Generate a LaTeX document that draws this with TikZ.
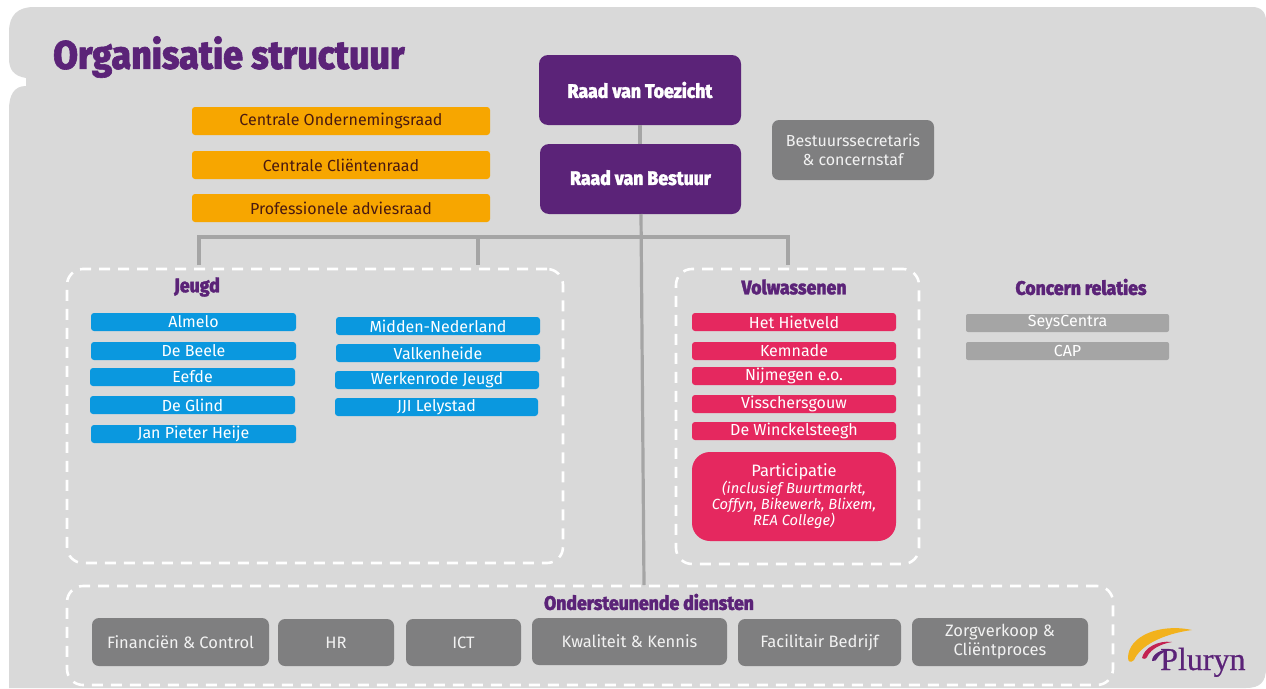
\documentclass[tikz,border=0pt]{standalone}
\usepackage{fontspec}
\setmainfont{Fira Sans}
\newfontfamily\headfont[FakeStretch=0.9,FakeBold=1.5]{Fira Sans ExtraBold}
\newfontfamily\logofont[FakeBold=0.6]{Liberation Serif}
\definecolor{bggray}{HTML}{D9D9D9}
\definecolor{purp}{HTML}{5B2378}
\definecolor{orng}{HTML}{F7A600}
\definecolor{blu}{HTML}{0A98DF}
\definecolor{rood}{HTML}{E5285F}
\definecolor{dgray}{HTML}{7F7F80}
\definecolor{lgray}{HTML}{A5A5A5}
\definecolor{brownt}{HTML}{4A1A10}
\definecolor{gold}{HTML}{F2B21C}
\tikzset{
 x=1pt,y=-1pt,
 box/.style={rounded corners=#1,inner sep=0pt,outer sep=0pt,align=center,anchor=north west},
 box/.default=3pt,
 purplebox/.style={box=9pt,fill=purp,text=white,font=\headfont\fontsize{19.6}{24}\selectfont},
 orangebox/.style={box=3pt,fill=orng,text=brownt,font=\fontsize{16}{19}\selectfont},
 bluebox/.style={box=3pt,fill=blu,text=white,font=\fontsize{16}{18}\selectfont,minimum width=204pt,minimum height=18pt},
 redbox/.style={box=3pt,fill=rood,text=white,font=\fontsize{16}{18}\selectfont,minimum width=204pt,minimum height=18pt},
 lgraybox/.style={box=2pt,fill=lgray,text=white,font=\fontsize{16}{18}\selectfont,minimum width=203pt,minimum height=18pt},
 dgraybox/.style={box=7pt,fill=dgray,text=white!90!dgray,font=\fontsize{16.5}{19}\selectfont},
 dashbox/.style={draw=white,line width=2.6pt,dash pattern=on 11pt off 8pt,rounded corners=16pt,anchor=north west,inner sep=0pt,outer sep=0pt},
 heading/.style={text=purp,font=\headfont\fontsize{19.6}{24}\selectfont,inner sep=0pt},
 conn/.style={draw=lgray,line width=3.2pt},
}
\begin{document}
\begin{tikzpicture}
\useasboundingbox (0,0) rectangle (1266,688);
\fill[white] (0,0) rectangle (1266,688);
% background panel with notch
\fill[bggray] (34,7) -- (1252,7) .. controls (1261,7) and (1266,12) .. (1266,21) -- (1266,668)
  .. controls (1266,682) and (1260,688) .. (1246,688) -- (9,688) -- (9,110)
  .. controls (9,95) and (14,86) .. (26,86) -- (26,78)
  .. controls (14,76) and (9,70) .. (9,58) -- (9,32)
  .. controls (9,15) and (18,7) .. (34,7) -- cycle;
\node[text=purp,font=\headfont\fontsize{39.9}{46}\selectfont,anchor=west,inner sep=0pt] (title) at (53,57) {Organisatie structuur};
% dashed groups
\node[dashbox,minimum width=496pt,minimum height=294pt] (jeugd) at (67,269) {};
\node[dashbox,minimum width=243pt,minimum height=295pt] (volw) at (676,269) {};
\node[dashbox,minimum width=1046pt,minimum height=99pt] (onder) at (67,586) {};
% top boxes
\node[purplebox,minimum width=202pt,minimum height=70pt] (rvt) at (539,55) {Raad van Toezicht};
\node[purplebox,minimum width=201pt,minimum height=70pt] (rvb) at (540,144) {\raisebox{3pt}{Raad van Bestuur}};
\node[orangebox,minimum width=298pt,minimum height=28pt] (cor) at (192,107) {Centrale Ondernemingsraad};
\node[orangebox,minimum width=298pt,minimum height=28pt] (ccr) at (192,151) {Centrale Cliëntenraad};
\node[orangebox,minimum width=298pt,minimum height=28pt] (par) at (192,194) {Professionele adviesraad};
\node[dgraybox,minimum width=162pt,minimum height=60pt,font=\fontsize{16}{19}\selectfont] (staf) at (772,120) {Bestuurssecretaris\\\& concernstaf};
% connector junctions
\coordinate (hj) at (641,237);
\coordinate (rx) at (640,100);
\coordinate (jl) at (199,265);
\coordinate (jm) at (478,265);
\coordinate (vr) at (788,265);
\coordinate (oin) at (644,585);
\draw[conn] (rvt.south -| rx) -- (rvb.north -| rx);
\draw[conn] (rvb.south -| hj) -- (oin);
\draw[conn] (jl) -- (jl |- hj) -- (vr |- hj) -- (vr);
\draw[conn] (jm) -- (jm |- hj);
% headings
\node[heading] (hjeugd) at (197,287) {Jeugd};
\node[heading] (hvolw) at (794,287) {Volwassenen};
\node[heading] (hrel) at (1081,287) {Concern relaties};
\node[heading] (hond) at (649,602) {Ondersteunende diensten};
% Jeugd
\node[bluebox,minimum width=205pt] (a1) at (91,313) {Almelo};
\node[bluebox,minimum width=205pt] (a2) at (91,342) {De Beele};
\node[bluebox,minimum width=205pt] (a3) at (90,368) {Eefde};
\node[bluebox,minimum width=205pt] (a4) at (90,396) {De Glind};
\node[bluebox,minimum width=205pt] (a5) at (91,425) {Jan Pieter Heije};
\node[bluebox] (b1) at (336,317) {Midden-Nederland};
\node[bluebox] (b2) at (336,344) {Valkenheide};
\node[bluebox] (b3) at (335,371) {Werkenrode Jeugd};
\node[bluebox,minimum width=203pt] (b4) at (335,398) {JJI Lelystad};
% Volwassenen
\node[redbox] (r1) at (692,313) {Het Hietveld};
\node[redbox] (r2) at (692,342) {Kemnade};
\node[redbox] (r3) at (692,367) {Nijmegen e.o.};
\node[redbox] (r4) at (692,395) {Visschersgouw};
\node[redbox] (r5) at (692,422) {De Winckelsteegh};
\node[box=18pt,fill=rood,text=white,minimum width=204pt,minimum height=89pt] (r6) at (692,452)
 {{\fontsize{16.5}{19}\selectfont Participatie}\\{\fontsize{14.7}{17.5}\selectfont\itshape (inclusief Buurtmarkt,}\\{\fontsize{14.7}{17.5}\selectfont\itshape Coffyn, Bikewerk, Blixem,}\\{\fontsize{14.7}{17.5}\selectfont\itshape REA College)}};
% Concern relaties
\node[lgraybox] (c1) at (966,314) {SeysCentra};
\node[lgraybox] (c2) at (966,342) {CAP};
% Ondersteunende
\node[dgraybox,minimum width=177pt,minimum height=48pt] (d1) at (92,618) {Financiën \& Control};
\node[dgraybox,minimum width=116pt,minimum height=47pt] (d2) at (278,619) {HR};
\node[dgraybox,minimum width=115pt,minimum height=47pt] (d3) at (406,619) {ICT};
\node[dgraybox,minimum width=195pt,minimum height=47pt] (d4) at (532,618) {Kwaliteit \& Kennis};
\node[dgraybox,minimum width=163pt,minimum height=47pt] (d5) at (738,619) {Facilitair Bedrijf};
\node[dgraybox,minimum width=176pt,minimum height=48pt] (d6) at (912,618) {Zorgverkoop \&\\Cliëntproces};
% logo
\fill[gold] (1192,630) .. controls (1160,623) and (1128,636) .. (1128,658)
  .. controls (1128,662) and (1131,663) .. (1134,660)
  .. controls (1140,646) and (1162,634) .. (1192,630) -- cycle;
\fill[rood!85!black] (1172,642) .. controls (1158,640) and (1144,648) .. (1142,658)
  .. controls (1145,660) and (1147,658) .. (1148,655)
  .. controls (1152,649) and (1160,644) .. (1172,642) -- cycle;
\fill[purp] (1172,650) .. controls (1162,648) and (1152,654) .. (1152,661)
  .. controls (1155,662) and (1156,660) .. (1158,657)
  .. controls (1161,653) and (1165,651) .. (1172,650) -- cycle;
\node[text=purp,font=\logofont\fontsize{32}{34}\selectfont,inner sep=0pt,anchor=base west] (logo) at (1160,670) {Pluryn};
\end{tikzpicture}
\end{document}
